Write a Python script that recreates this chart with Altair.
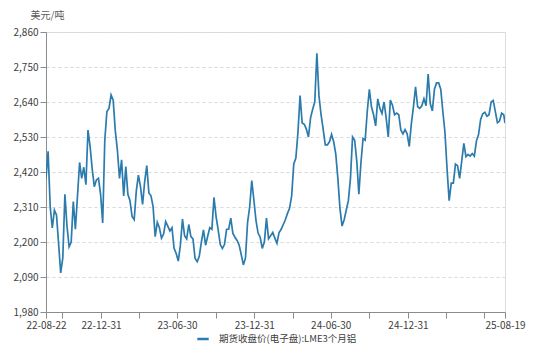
import altair as alt
import pandas as pd

series_name = "期货收盘价(电子盘):LME3个月铝"
start_date = "2022-08-22"
end_date = "2025-08-19"

values = [
    2400, 2485, 2311, 2244, 2300, 2285, 2195, 2103, 2150, 2350,
    2250, 2185, 2200, 2327, 2240, 2345, 2450, 2400, 2435, 2380,
    2552, 2500, 2430, 2374, 2395, 2400, 2350, 2260, 2520, 2610,
    2620, 2662, 2646, 2550, 2489, 2400, 2458, 2345, 2437, 2350,
    2330, 2280, 2270, 2360, 2410, 2374, 2318, 2390, 2440, 2354,
    2345, 2311, 2217, 2262, 2245, 2212, 2225, 2264, 2250, 2235,
    2245, 2180, 2164, 2140, 2190, 2272, 2220, 2210, 2255, 2217,
    2210, 2148, 2138, 2155, 2200, 2238, 2190, 2218, 2245, 2240,
    2340, 2280, 2238, 2192, 2180, 2192, 2240, 2240, 2275, 2227,
    2215, 2205, 2190, 2160, 2128, 2150, 2262, 2310, 2393, 2332,
    2268, 2228, 2215, 2180, 2200, 2275, 2210, 2220, 2230, 2212,
    2196, 2230, 2240, 2255, 2270, 2290, 2306, 2345, 2445, 2464,
    2545, 2660, 2574, 2570, 2555, 2530, 2590, 2617, 2640, 2793,
    2660, 2600, 2555, 2505, 2505, 2515, 2538, 2515, 2477, 2400,
    2305, 2250, 2270, 2300, 2330, 2400, 2530, 2520, 2455, 2350,
    2450, 2525, 2520, 2610, 2680, 2625, 2600, 2565, 2650, 2620,
    2604, 2640, 2590, 2530, 2646, 2630, 2600, 2605, 2600, 2552,
    2540, 2553, 2540, 2500, 2572, 2625, 2688, 2625, 2620, 2628,
    2650, 2628, 2728, 2635, 2612, 2680, 2700, 2700, 2680, 2610,
    2545, 2430, 2330, 2385, 2385, 2445, 2440, 2400, 2455, 2510,
    2468, 2475, 2470, 2478, 2470, 2518, 2538, 2585, 2603, 2608,
    2595, 2600, 2640, 2645, 2610, 2575, 2580, 2605, 2600,
]
last_value = 2574

dates = list(pd.date_range(start_date, periods=len(values), freq="5D")) + [pd.Timestamp(end_date)]
df = pd.DataFrame({"date": dates, "price": values + [last_value], "series": series_name})

tick_dates = ["2022-08-22", "2022-09-30", "2022-12-31", "2023-03-31", "2023-06-30",
              "2023-09-30", "2023-12-31", "2024-03-31", "2024-06-30", "2024-09-30",
              "2024-12-31", "2025-03-31", "2025-06-30", "2025-08-19"]
label_dates = ["22-08-22", "22-12-31", "23-06-30", "23-12-31", "24-06-30", "24-12-31", "25-08-19"]
y_ticks = [1980, 2090, 2200, 2310, 2420, 2530, 2640, 2750, 2860]

def to_dt(s):
    y, m, d = s.split("-")
    return alt.DateTime(year=int(y), month=int(m), date=int(d))

label_list = "[" + ",".join("'%s'" % s for s in label_dates) + "]"
label_expr = ("indexof(%s, timeFormat(datum.value, '%%y-%%m-%%d')) >= 0 ? "
              "timeFormat(datum.value, '%%y-%%m-%%d') : ''") % label_list

font = "Noto Sans CJK SC"

chart = alt.Chart(df).mark_line(strokeWidth=1.7, clip=True).encode(
    x=alt.X("date:T",
            scale=alt.Scale(domain=[to_dt(start_date), to_dt(end_date)], nice=False, padding=0),
            axis=alt.Axis(title=None, values=[to_dt(s) for s in tick_dates], labelExpr=label_expr,
                          grid=False, domainColor="#8c8c8c", tickColor="#8c8c8c", tickSize=6,
                          labelFont=font, labelFontSize=10, labelColor="#404040",
                          labelPadding=2, labelOverlap=False, labelFlush=False)),
    y=alt.Y("price:Q",
            scale=alt.Scale(domain=[1980, 2860], nice=False, zero=False),
            axis=alt.Axis(title="美元/吨", values=y_ticks, format=",d",
                          titleAngle=0, titleX=-16, titleY=-12, titleAlign="left",
                          titleBaseline="bottom", titleFont=font, titleFontSize=10,
                          titleFontWeight="normal", titleColor="#595959",
                          grid=True, gridColor="#d9d9d9", gridDash=[3, 3],
                          domainColor="#8c8c8c", tickColor="#8c8c8c", tickSize=6,
                          labelFont=font, labelFontSize=10, labelColor="#404040",
                          labelPadding=2)),
    color=alt.Color("series:N", scale=alt.Scale(range=["#2b7bad"]),
                    legend=alt.Legend(title=None, orient="none", legendX=150, legendY=300,
                                      symbolType="stroke", symbolStrokeWidth=2.5, symbolSize=130,
                                      labelOffset=9,
                                      labelFont=font, labelFontSize=9.5, labelColor="#404040")),
).properties(
    width=459, height=280,
    autosize=alt.AutoSizeParams(type="none"),
    padding={"left": 46, "top": 32, "right": 45, "bottom": 42},
).configure_view(stroke=None).configure(background="white")

chart.save("out.html", embed_options={"renderer": "svg", "actions": False})
